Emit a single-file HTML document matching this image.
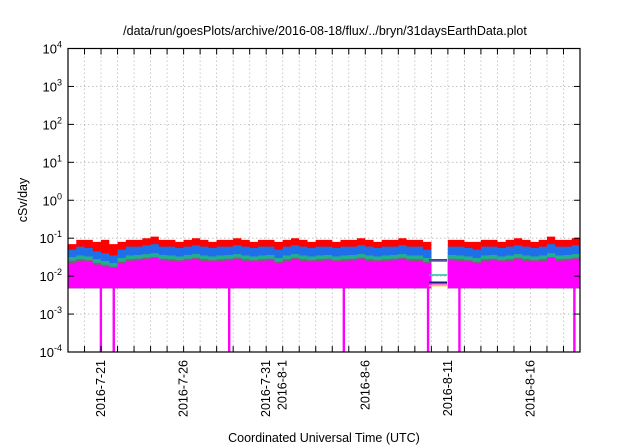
<!DOCTYPE html>
<html><head><meta charset="utf-8"><style>
body{margin:0;background:#fff;}
svg{display:block;font-family:"Liberation Sans",sans-serif;}
</style></head><body>
<svg id="chart" width="640" height="448" viewBox="0 0 640 448">
<text x="325" y="35" font-size="12.5" text-anchor="middle">/data/run/goesPlots/archive/2016-08-18/flux/../bryn/31daysEarthData.plot</text>
<text x="324" y="442" font-size="12.5" text-anchor="middle">Coordinated Universal Time (UTC)</text>
<text transform="translate(27,200) rotate(-90)" font-size="12.5" text-anchor="middle">cSv/day</text>
<g id="grid"></g><g id="data"></g><g id="axes"></g>
</svg>
<script>
const days=31;
const redTop=[0.07,0.09,0.09,0.08,0.09,0.07,0.08,0.09,0.09,0.10,0.11,0.09,0.09,0.08,0.09,0.10,0.09,0.08,0.09,0.09,0.10,0.09,0.08,0.09,0.09,0.08,0.09,0.10,0.09,0.08,0.09,0.09,0.08,0.09,0.09,0.10,0.09,0.08,0.09,0.09,0.10,0.09,0.09,0.08,null,null,0.09,0.09,0.08,0.08,0.09,0.09,0.08,0.09,0.10,0.09,0.08,0.09,0.11,0.09,0.09,0.10];
const blueTop=[0.05,0.06,0.055,0.045,0.04,0.035,0.05,0.06,0.06,0.065,0.07,0.06,0.06,0.055,0.06,0.065,0.06,0.055,0.06,0.06,0.065,0.06,0.055,0.06,0.06,0.05,0.06,0.065,0.06,0.055,0.06,0.06,0.055,0.06,0.06,0.065,0.06,0.055,0.06,0.06,0.065,0.06,0.06,0.05,null,null,0.06,0.06,0.055,0.05,0.06,0.06,0.055,0.06,0.065,0.06,0.055,0.06,0.07,0.06,0.06,0.065];
const tealTop=[0.032,0.035,0.033,0.028,0.025,0.022,0.03,0.035,0.036,0.038,0.04,0.036,0.035,0.033,0.036,0.038,0.035,0.033,0.035,0.036,0.038,0.035,0.033,0.035,0.036,0.03,0.035,0.038,0.035,0.033,0.035,0.036,0.033,0.035,0.036,0.038,0.035,0.033,0.035,0.036,0.038,0.035,0.035,0.03,null,null,0.036,0.035,0.033,0.03,0.035,0.036,0.033,0.035,0.038,0.035,0.033,0.035,0.04,0.035,0.036,0.038];
const magTop=[0.022,0.025,0.024,0.02,0.018,0.017,0.022,0.025,0.026,0.028,0.03,0.026,0.025,0.024,0.026,0.028,0.025,0.024,0.025,0.026,0.028,0.025,0.024,0.025,0.026,0.022,0.025,0.028,0.025,0.024,0.025,0.026,0.024,0.025,0.026,0.028,0.025,0.024,0.025,0.026,0.028,0.025,0.025,0.022,null,null,0.026,0.025,0.024,0.022,0.025,0.026,0.024,0.025,0.028,0.025,0.024,0.025,0.03,0.025,0.026,0.028];
const floorVal=0.0048;
const dropDays=[1.99,2.77,9.76,16.7,21.8,23.7,30.66];
const gapLevels=[0.027,0.025,0.0107,0.0069,0.0063,0.0056];
const gapColors=["#ff0000","#1f6fe8","#20c0a0","#1a1a80","#ff00ff","#e8d000"];
const gapStart=21.85,gapEnd=22.95;
const yTickExp=[-4,-3,-2,-1,0,1,2,3,4];
const xLabelDays=[2,7,12,13,18,23,28];
const xLabels=["2016-7-21","2016-7-26","2016-7-31","2016-8-1","2016-8-6","2016-8-11","2016-8-16"];
const L=68,R=580,T=48.5,B=352;
const X=d=>L+d/days*(R-L);
const Y=v=>B-(Math.log10(v)+4)/8*(B-T);
const NS="http://www.w3.org/2000/svg";
function mk(p,t,a){const e=document.createElementNS(NS,t);for(const k in a)e.setAttribute(k,a[k]);p.appendChild(e);return e;}
const grid=document.getElementById('grid'),data=document.getElementById('data'),axes=document.getElementById('axes');
for(let d=1;d<days;d++){const g=mk(grid,'line',{x1:X(d),x2:X(d),y1:T,y2:B,stroke:'#bbb','stroke-dasharray':'1.5,2.5','stroke-width':0.8});
}
yTickExp.forEach(e=>{const y=Y(Math.pow(10,e));
if(e>-4&&e<4){const g=mk(grid,'line',{x1:L,x2:R,y1:y,y2:y,stroke:'#bbb','stroke-dasharray':'1.5,2.5','stroke-width':0.8});}
const t=mk(axes,'text',{x:L-6,y:y+5,'font-size':13,'text-anchor':'end'});

t.textContent='10';const s=mk(t,'tspan',{dy:-6,'font-size':9});s.textContent=String(e);
mk(axes,'line',{x1:L,x2:L+6,y1:y,y2:y,stroke:'#000'});mk(axes,'line',{x1:R,x2:R-6,y1:y,y2:y,stroke:'#000'});});
function area(top,bot,color,name){let n=top.length,w=days/n,segs=[],cur=[];
for(let i=0;i<n;i++){if(top[i]==null){if(cur.length)segs.push(cur);cur=[];continue;}cur.push([i*w,(i+1)*w,top[i]]);}
if(cur.length)segs.push(cur);
segs.forEach(sg=>{let d='M'+X(sg[0][0])+','+Y(bot);sg.forEach(p=>{d+='L'+X(p[0])+','+Y(p[2])+'L'+X(p[1])+','+Y(p[2]);});d+='L'+X(sg[sg.length-1][1])+','+Y(bot)+'Z';
const e=mk(data,'path',{d:d,fill:color});});}
area(redTop,floorVal,'#ff0000','series-red');
area(blueTop,floorVal,'#1f6fe8','series-blue');
area(tealTop,floorVal,'#20b090','series-teal');
area(tealTop.map(v=>v==null?null:v*0.8),floorVal,'#8a5a80','series-gray');
area(magTop,floorVal,'#ff00ff','series-magenta');
dropDays.forEach(d=>{const e=mk(data,'rect',{x:X(d)-1.2,y:Y(floorVal),width:2.4,height:B-Y(floorVal),fill:'#ff00ff'});
});
gapLevels.forEach((v,i)=>{const e=mk(data,'line',{x1:X(gapStart),x2:X(gapEnd),y1:Y(v),y2:Y(v),stroke:gapColors[i],'stroke-width':1.5});
});
const fr=mk(axes,'rect',{x:L,y:T,width:R-L,height:B-T,fill:'none',stroke:'#000','stroke-width':1.2});

for(let d=1;d<days;d++){mk(axes,'line',{x1:X(d),x2:X(d),y1:B,y2:B-6,stroke:'#000'});mk(axes,'line',{x1:X(d),x2:X(d),y1:T,y2:T+6,stroke:'#000'});}
xLabelDays.forEach((d,i)=>{const x=X(d)+4,y=B+8;const t=mk(axes,'text',{x:x,y:y,'font-size':12.5,'text-anchor':'end',transform:`rotate(-90 ${x} ${y})`});
t.textContent=xLabels[i];});
</script>
</body></html>
